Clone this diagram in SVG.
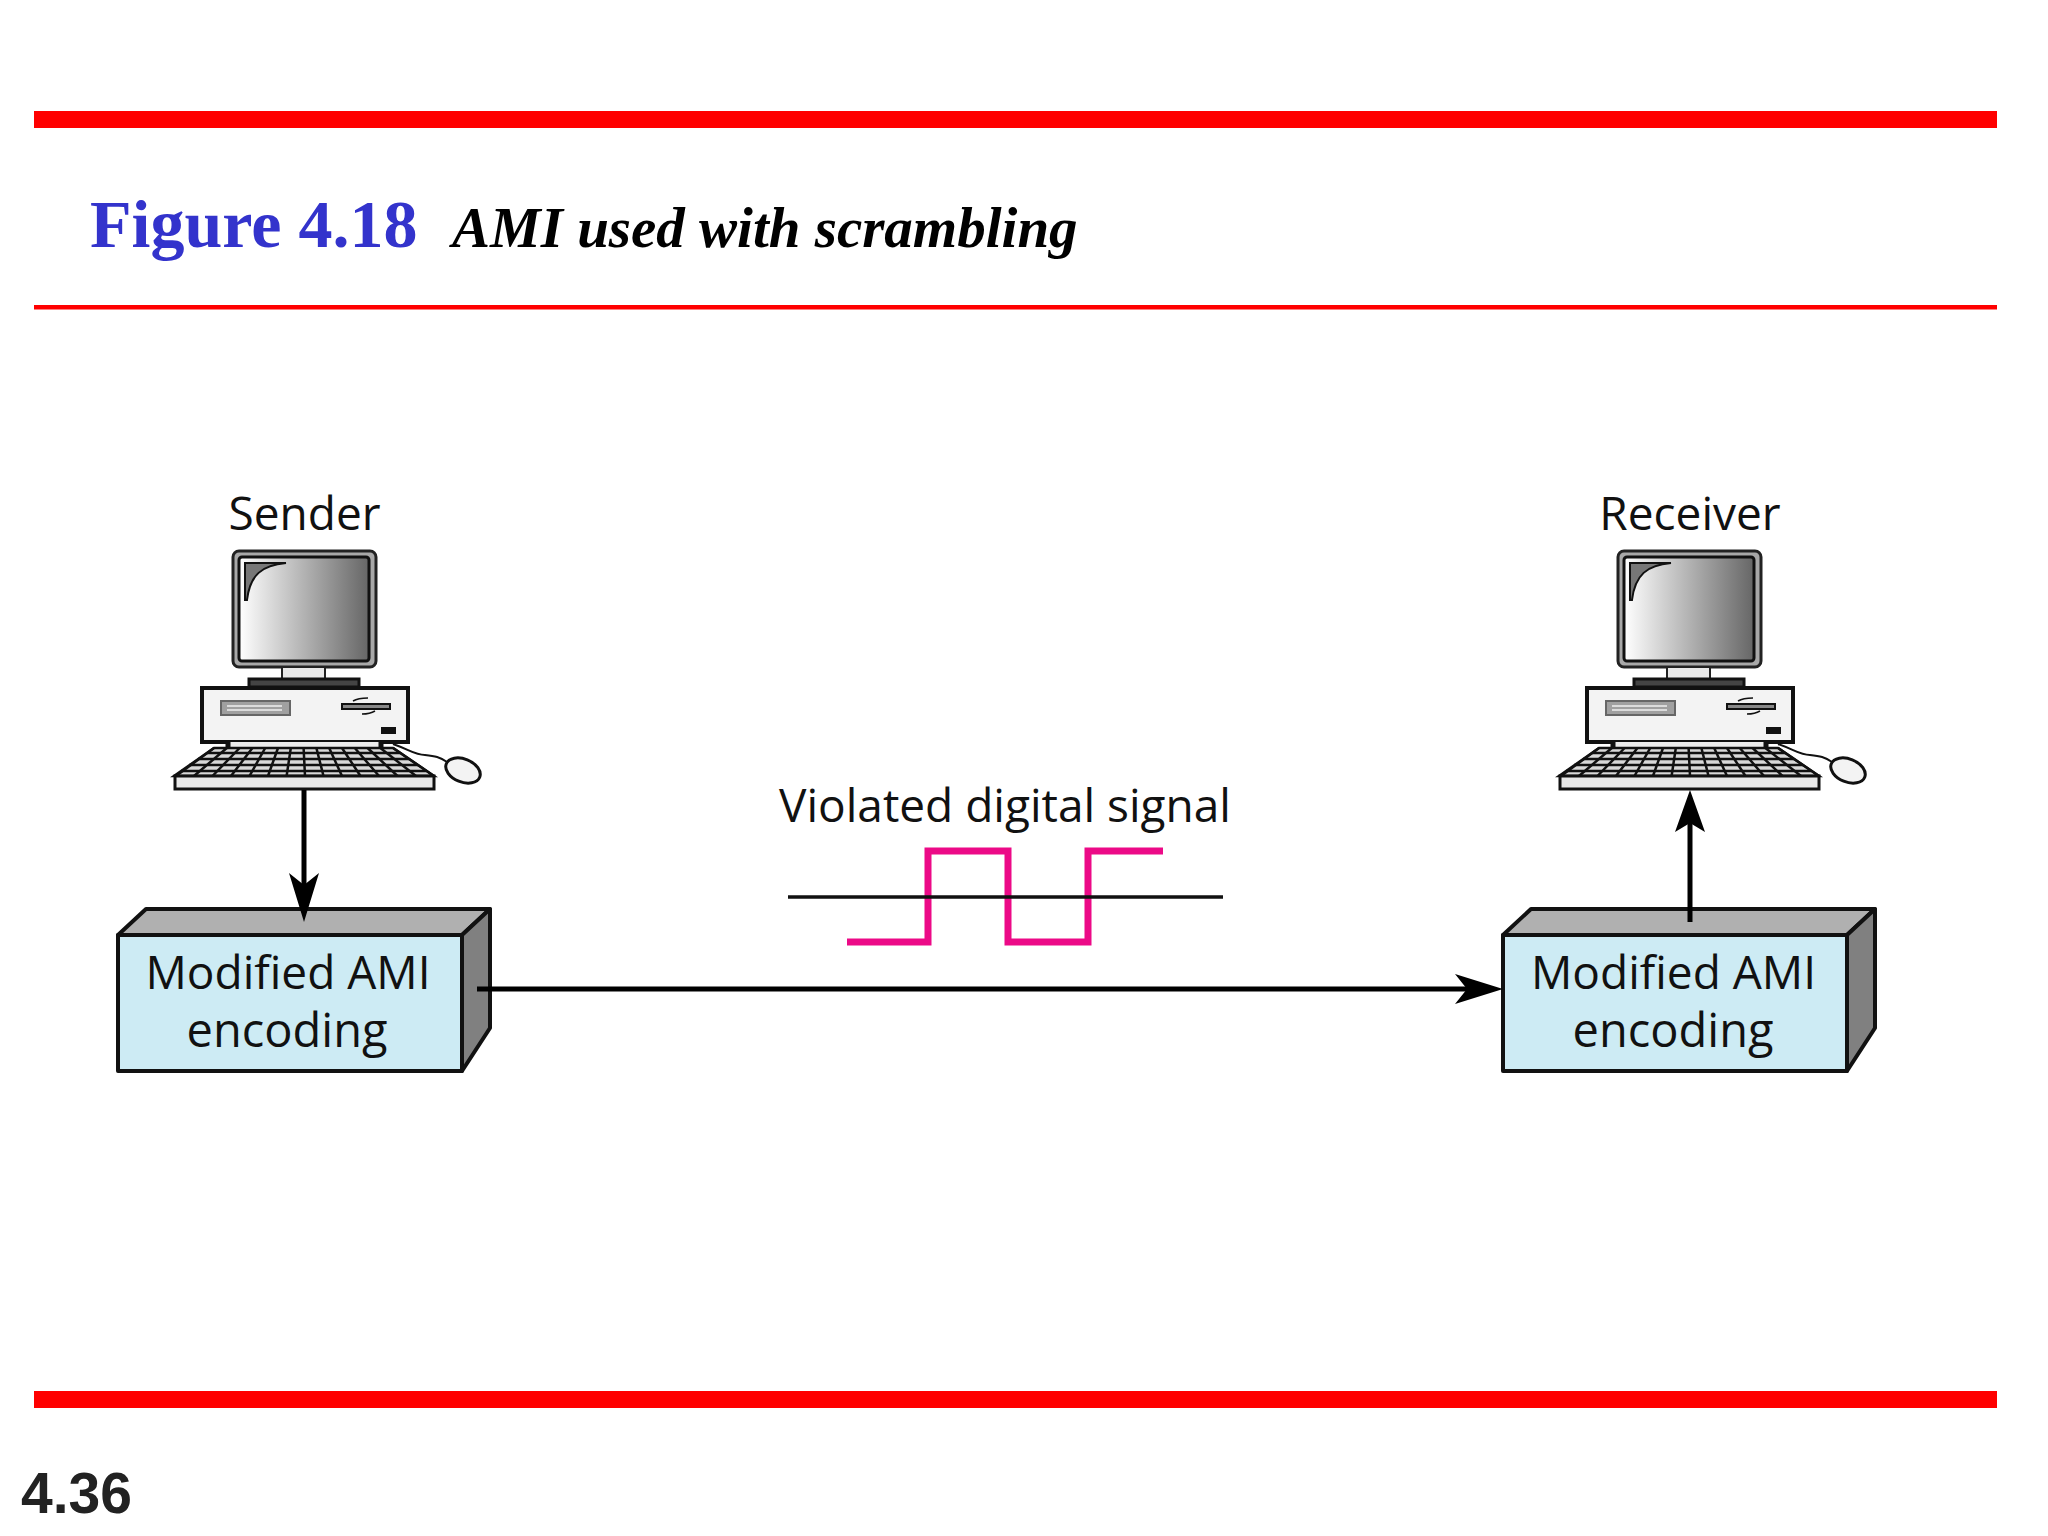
<svg xmlns="http://www.w3.org/2000/svg" width="2048" height="1536" viewBox="0 0 2048 1536">
<style>
.lbl{font-family:"Open Sans","Noto Sans",sans-serif;fill:#111;font-size:46px}
.enc{font-size:47px}
.box-front{fill:#cdebf4;stroke:#111;stroke-width:4;stroke-linejoin:round}
.box-top{fill:#b0b0b0;stroke:#111;stroke-width:4;stroke-linejoin:round}
.box-side{fill:#808080;stroke:#111;stroke-width:4;stroke-linejoin:round}
.bar{fill:#ff0000}
.conn{stroke:#000;stroke-width:5;fill:none}
</style>
<defs>
<linearGradient id="scr" x1="0" y1="0" x2="1" y2="0"><stop offset="0" stop-color="#ffffff"/><stop offset="1" stop-color="#666666"/></linearGradient>
<g id="computer">
<rect x="233" y="551" width="143" height="116" rx="6" fill="#a8a8a8" stroke="#222" stroke-width="3"/>
<rect x="239" y="557" width="130" height="104" rx="3" fill="url(#scr)" stroke="#111" stroke-width="3"/>
<path d="M245,563 L286,563 C262,565 250,575 247,600 L245,600 Z" fill="#777" stroke="#111" stroke-width="2"/>
<rect x="282" y="667" width="43" height="12" fill="#e8e8e8" stroke="#222" stroke-width="2"/>
<rect x="249" y="679" width="110" height="8" fill="#444" stroke="#111" stroke-width="3"/>
<rect x="202" y="688" width="206" height="54" fill="#f3f3f3" stroke="#111" stroke-width="4"/>
<rect x="221" y="701" width="69" height="14" fill="#a0a0a0" stroke="#666" stroke-width="2"/>
<path d="M227,706 H282 M227,710 H282" stroke="#eee" stroke-width="1.5" fill="none"/>
<rect x="342" y="704" width="48" height="5" fill="#888" stroke="#111" stroke-width="2"/>
<path d="M353,701 Q358,698 368,698 M362,714 Q370,714 375,711" stroke="#111" stroke-width="1.5" fill="none"/>
<rect x="381" y="727" width="15" height="7" fill="#111"/>
<rect x="228" y="742" width="152" height="6" fill="#ececec"/>
<path d="M228,742 V748 M381,742 V748" stroke="#111" stroke-width="5"/>
<path d="M393,744 C410,750 415,755 425,755 C435,756 440,757 447,762" stroke="#111" stroke-width="2" fill="none"/>
<ellipse cx="463" cy="770.5" rx="18" ry="11.5" transform="rotate(22 463 770.5)" fill="#f3f3f3" stroke="#111" stroke-width="3"/>
<path d="M214,748 H393 L434,776 H174 Z" fill="#d8d8d8" stroke="#111" stroke-width="2.5"/>
<path d="M207,753 H400 M198,759 H409 M189,765 H418 M181,771 H426" stroke="#111" stroke-width="2.5" fill="none"/>
<path d="M214,748 L176,776 M226.8,748 L194,776 M239.6,748 L212.5,776 M252.4,748 L231,776 M265.2,748 L249.5,776 M278,748 L268,776 M290.8,748 L286.6,776 M303.6,748 L305,776 M316.4,748 L323.5,776 M329.2,748 L342,776 M342,748 L360.5,776 M354.8,748 L379,776 M367.6,748 L397.5,776 M380.4,748 L416,776 M393.2,748 L434,776" stroke="#111" stroke-width="2.5" fill="none"/>
<rect x="175" y="776" width="259" height="13" fill="#e8e8e8" stroke="#111" stroke-width="3"/>
</g>
<g id="box">
<path class="box-top" d="M118,935 L146,909 H490 L462,935 Z"/>
<path class="box-side" d="M462,935 L490,909 V1028 L462,1071 Z"/>
<rect class="box-front" x="118" y="935" width="344" height="136"/>
</g>
</defs>
<rect width="2048" height="1536" fill="#fff"/>
<g id="frame">
<rect class="bar" x="34" y="111" width="1963" height="17"/>
<rect class="bar" x="34" y="305" width="1963" height="4.5"/>
<rect class="bar" x="34" y="1391" width="1963" height="17"/>
</g>
<g id="title">
<text x="90" y="247" font-family="Liberation Serif, serif" font-weight="bold" font-size="68" fill="#3333cc">Figure 4.18</text>
<text x="452" y="247" font-family="Liberation Serif, serif" font-weight="bold" font-style="italic" font-size="57" fill="#000">AMI used with scrambling</text>
</g>
<g id="sender">
<text class="lbl" x="304.5" y="530" text-anchor="middle">Sender</text>
<use href="#computer"/>
</g>
<g id="receiver">
<text class="lbl" x="1690" y="530" text-anchor="middle">Receiver</text>
<use href="#computer" transform="translate(1385 0)"/>
</g>
<g id="encoder">
<use href="#box"/>
<text class="lbl" x="288" y="989" text-anchor="middle">Modified AMI</text>
<text class="lbl enc" x="287" y="1047" text-anchor="middle">encoding</text>
</g>
<g id="decoder">
<use href="#box" transform="translate(1385 0)"/>
<text class="lbl" x="1673.500" y="989" text-anchor="middle">Modified AMI</text>
<text class="lbl enc" x="1673" y="1047" text-anchor="middle">encoding</text>
</g>
<g id="signal">
<text class="lbl" x="1005" y="822" text-anchor="middle">Violated digital signal</text>
<path d="M847,942 H928 V851 H1008 V942 H1088 V851 H1163" fill="none" stroke="#ec0a87" stroke-width="7"/>
<path d="M788,897 H1223" stroke="#111" stroke-width="3.5"/>
</g>
<g id="connectors">
<path class="conn" d="M304,790 V890"/>
<path d="M304,922 L289,873 L304,885 L319,873 Z" fill="#000"/>
<path class="conn" d="M1690,922 V820"/>
<path d="M1690,790 L1675,832 L1690,823 L1705,832 Z" fill="#000"/>
<path class="conn" d="M477,989 H1470"/>
<path d="M1503,989 L1455,974 L1467,989 L1455,1004 Z" fill="#000"/>
</g>
<g id="page">
<text x="21" y="1513" font-family="Liberation Sans, sans-serif" font-weight="bold" font-size="57" fill="#222">4.36</text>
</g>
</svg>
